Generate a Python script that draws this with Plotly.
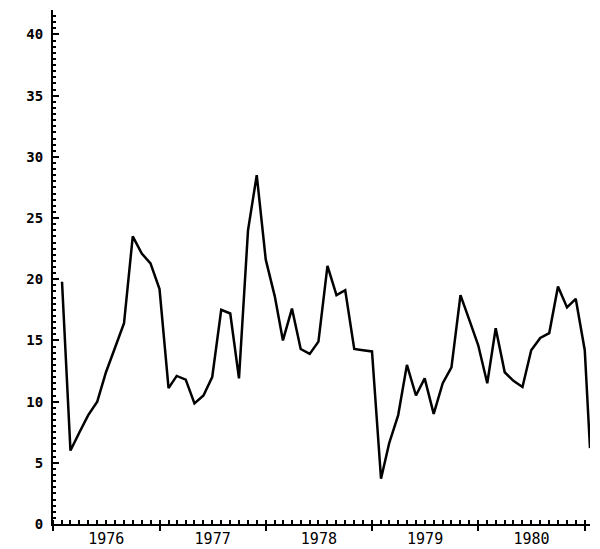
import plotly.graph_objects as go
import pandas as pd

# Monthly dates Feb 1976 .. Jan 1981, plus one final partial-month point
dates = list(pd.date_range("1976-02-01", "1981-01-01", freq="MS").strftime("%Y-%m-%d")) + ["1981-01-19"]

values = [
    # 1976 Feb-Dec
    19.8, 6.0, 7.5, 8.9, 10.0, 12.4, 14.4, 16.4, 23.5, 22.1, 21.3,
    # 1977
    19.2, 11.1, 12.1, 11.8, 9.85, 10.5, 12.0, 17.5, 17.2, 11.9, 24.0, 28.5,
    # 1978
    21.6, 18.6, 15.0, 17.6, 14.3, 13.9, 14.9, 21.1, 18.7, 19.1, 14.3, 14.2,
    # 1979
    14.1, 3.7, 6.6, 8.9, 13.0, 10.5, 11.9, 9.0, 11.5, 12.8, 18.7, 16.7,
    # 1980
    14.6, 11.5, 16.0, 12.4, 11.7, 11.2, 14.2, 15.2, 15.6, 19.4, 17.7, 18.4,
    # 1981
    14.2, 6.2,
]

y_ticks = [0, 5, 10, 15, 20, 25, 30, 35, 40]

fig = go.Figure()
fig.add_trace(go.Scatter(
    x=dates, y=values, mode="lines",
    line=dict(color="black", width=2.5),
    showlegend=False, cliponaxis=False,
))

y_font = dict(family="DejaVu Sans Mono", size=14, color="black", weight="bold")
x_font = dict(family="DejaVu Sans Mono", size=15, color="black")

# the page body has an 8px margin, so the figure is sized and offset to match
fig.update_layout(
    width=592, height=541,
    margin=dict(l=45, r=10, t=2, b=25),
    paper_bgcolor="white", plot_bgcolor="white",
    xaxis=dict(
        type="date", automargin=False,
        range=["1976-01-01", "1981-01-19"],
        dtick="M12", tick0="1976-01-01",
        tickformat="%Y", ticklabelmode="period",
        ticks="outside", ticklen=5, tickwidth=2, tickcolor="black",
        minor=dict(dtick="M1", ticks="inside", ticklen=4, tickwidth=1.5, tickcolor="black"),
        showline=True, linecolor="black", linewidth=2,
        showgrid=False, zeroline=False,
        tickfont=x_font,
        ticklabelstandoff=-5,
    ),
    yaxis=dict(
        automargin=False,
        range=[0, 42],
        tickvals=y_ticks,
        ticktext=[str(v) for v in y_ticks],
        ticks="inside", ticklen=6, tickwidth=2, tickcolor="black",
        minor=dict(dtick=0.5, ticks="inside", ticklen=3, tickwidth=1.5, tickcolor="black"),
        showline=True, linecolor="black", linewidth=2,
        showgrid=False, zeroline=False,
        tickfont=y_font,
        ticklabelstandoff=5,
    ),
)

fig.write_html("out.html")
